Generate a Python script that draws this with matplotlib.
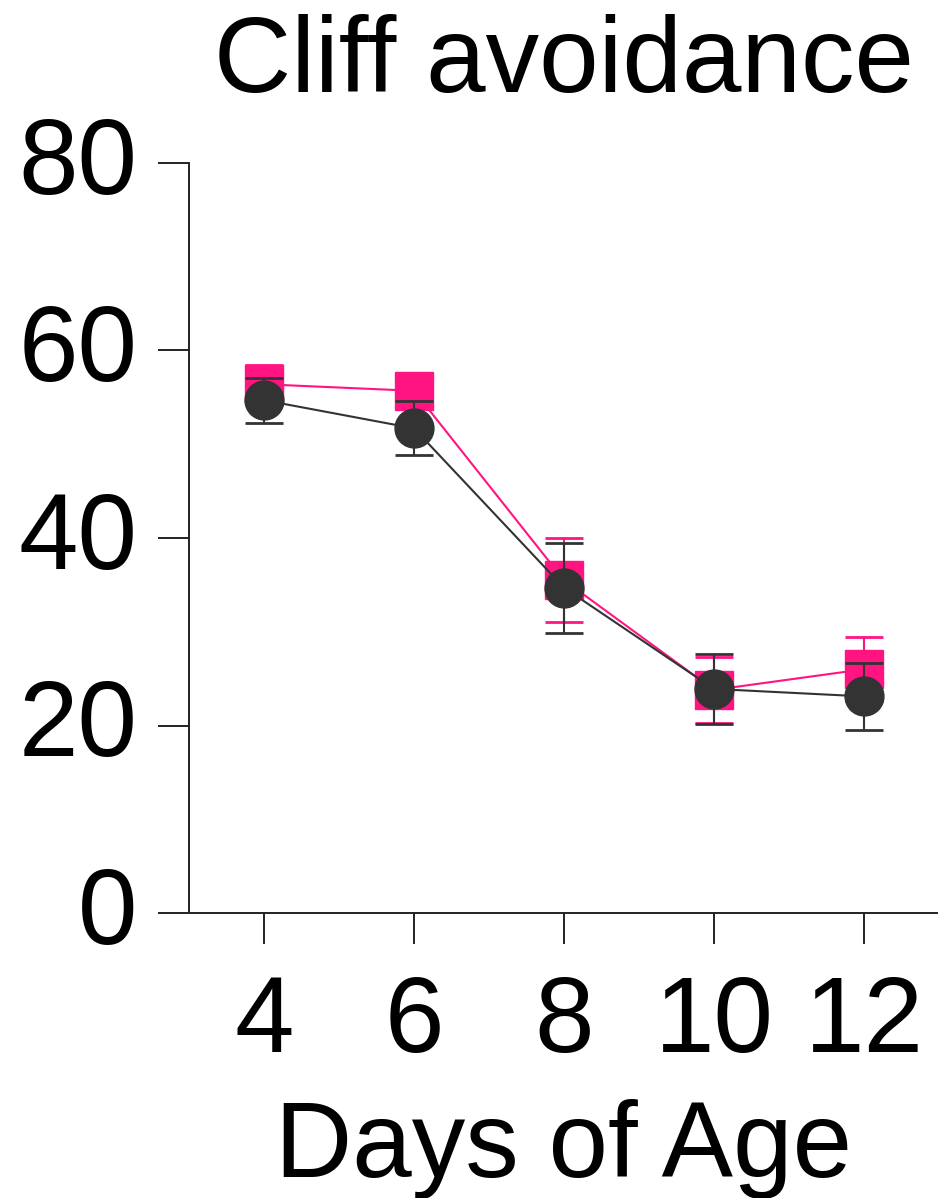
import matplotlib
matplotlib.use("Agg")
import matplotlib.pyplot as plt
from matplotlib.transforms import ScaledTranslation

plt.rcParams['font.family'] = ['Liberation Sans', 'DejaVu Sans']

days = [4, 6, 8, 10, 12]
tick_labels = ['4', '6', '8', '10', '12']
y_ticks = [0, 20, 40, 60, 80]

# Group means and SEM (percent)
pink_mean = [56.4, 55.7, 35.5, 23.8, 26.0]
pink_err = [2.1, 1.5, 4.5, 3.5, 3.4]
dark_mean = [54.7, 51.7, 34.7, 23.9, 23.1]
dark_err = [2.4, 2.9, 4.8, 3.7, 3.6]

PINK = '#FF1482'
DARK = '#333333'
FS = 77

W, H, DPI = 938, 1198, 100
fig = plt.figure(figsize=(W / DPI, H / DPI), dpi=DPI)
ax = fig.add_axes([189 / W, (H - 913) / H, (939 - 189) / W, (913 - 163) / H])

ax.errorbar(days, pink_mean, yerr=pink_err, color=PINK, marker='s',
            markersize=27, linewidth=1.5, elinewidth=1.5, capsize=13.7,
            capthick=2, zorder=2)
ax.errorbar(days, dark_mean, yerr=dark_err, color=DARK, marker='o',
            markersize=28, linewidth=1.5, elinewidth=1.5, capsize=13.7,
            capthick=2, zorder=3)

ax.set_xlim(3, 13)
ax.set_ylim(0, 80)
ax.set_xticks(days)
ax.set_xticklabels(tick_labels)
ax.set_yticks(y_ticks)

for s in ['top', 'right']:
    ax.spines[s].set_visible(False)
for s in ['left', 'bottom']:
    ax.spines[s].set_linewidth(1.4)
    ax.spines[s].set_color('#222222')

ax.tick_params(axis='y', direction='out', length=22, width=1.4,
               color='#222222', labelsize=FS, pad=15)
ax.tick_params(axis='x', direction='out', length=22, width=1.4,
               color='#222222', labelsize=FS, pad=22)

# y tick labels sit slightly above their ticks
lift = ScaledTranslation(0, 6 / 72, fig.dpi_scale_trans)
for lab in ax.get_yticklabels():
    lab.set_transform(lab.get_transform() + lift)

ax.set_title('Cliff avoidance', fontsize=FS, pad=51)
ax.set_xlabel('Days of Age', fontsize=FS, labelpad=18)

fig.savefig('out.png', dpi=DPI)
